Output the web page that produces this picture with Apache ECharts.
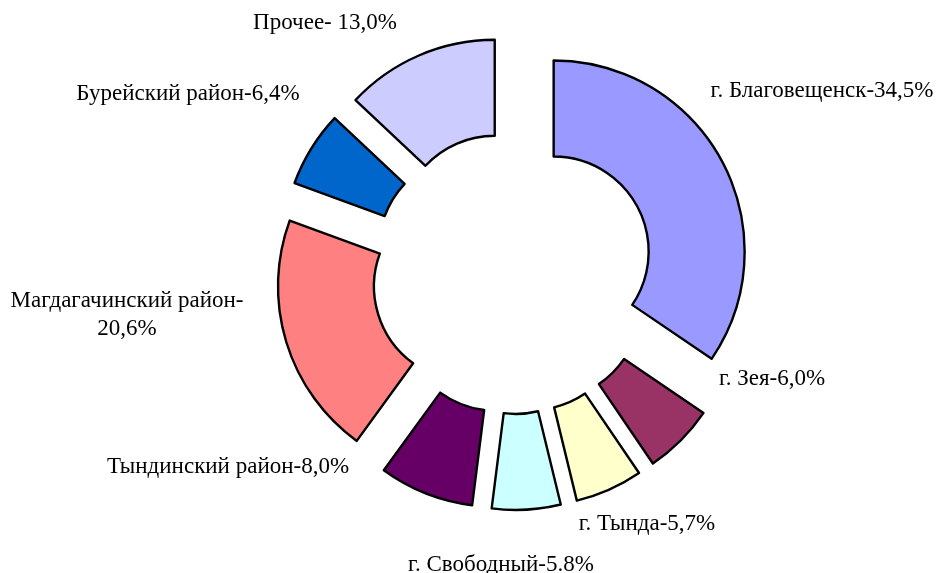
<!DOCTYPE html>
<html>
<head>
<meta charset="utf-8">
<script src="https://cdn.jsdelivr.net/npm/echarts@6/dist/echarts.min.js"></script>
<style>
  html, body { margin: 0; padding: 0; background: #fff; }
  #main { width: 943px; height: 573px; }
</style>
</head>
<body>
<div id="main"></div>
<script>
// данные диаграммы (по часовой стрелке от 12 часов)
var names = ['г. Благовещенск', 'г. Зея', 'г. Тында', 'г. Свободный',
             'Тындинский район', 'Магдагачинский район', 'Бурейский район', 'Прочее'];
var values = [34.5, 6.0, 5.7, 5.8, 8.0, 20.6, 6.4, 13.0];
var labels = ['г. Благовещенск-34,5%', 'г. Зея-6,0%', 'г. Тында-5,7%', 'г. Свободный-5.8%',
              'Тындинский район-8,0%', 'Магдагачинский район-\n20,6%', 'Бурейский район-6,4%', 'Прочее- 13,0%'];
var colors = ['#9999FF', '#993366', '#FFFFCC', '#CCFFFF', '#660066', '#FF8080', '#0066CC', '#CCCCFF'];

// положение подписей (центр текста)
var labelPos = [[822, 91], [772, 379], [647, 524], [501, 565],
                [228, 467], [127, 315], [188, 94], [325, 23]];

var cx = 513, cy = 273, explode = 46;
var total = values.reduce(function (a, b) { return a + b; }, 0);

var series = [];
var acc = 0;
values.forEach(function (v, i) {
    var mid = (acc + v / 2) / total * 2 * Math.PI;
    acc += v;
    series.push({
        type: 'pie',
        silent: true,
        animation: false,
        center: [cx + explode * Math.sin(mid), cy - explode * Math.cos(mid)],
        radius: [95, 191],
        startAngle: 90,
        clockwise: true,
        avoidLabelOverlap: false,
        label: { show: false },
        labelLine: { show: false },
        labelLayout: function () {
            return { x: labelPos[i][0], y: labelPos[i][1], align: 'center', verticalAlign: 'middle' };
        },
        data: values.map(function (w, j) {
            if (j === i) {
                return {
                    value: w, name: names[j],
                    itemStyle: { color: colors[j], borderColor: '#000', borderWidth: 2.4 },
                    label: {
                        show: true, position: 'outside', formatter: labels[j],
                        color: '#000', fontFamily: 'Liberation Serif', fontSize: 23,
                        lineHeight: labels[j].indexOf('\n') >= 0 ? 28 : 23
                    }
                };
            }
            return {
                value: w, name: names[j],
                itemStyle: { color: 'transparent', borderWidth: 0 },
                label: { show: false }, labelLine: { show: false }
            };
        })
    });
});

var myChart = echarts.init(document.getElementById('main'));
myChart.setOption({
    backgroundColor: '#fff',
    series: series
});
</script>
</body>
</html>
